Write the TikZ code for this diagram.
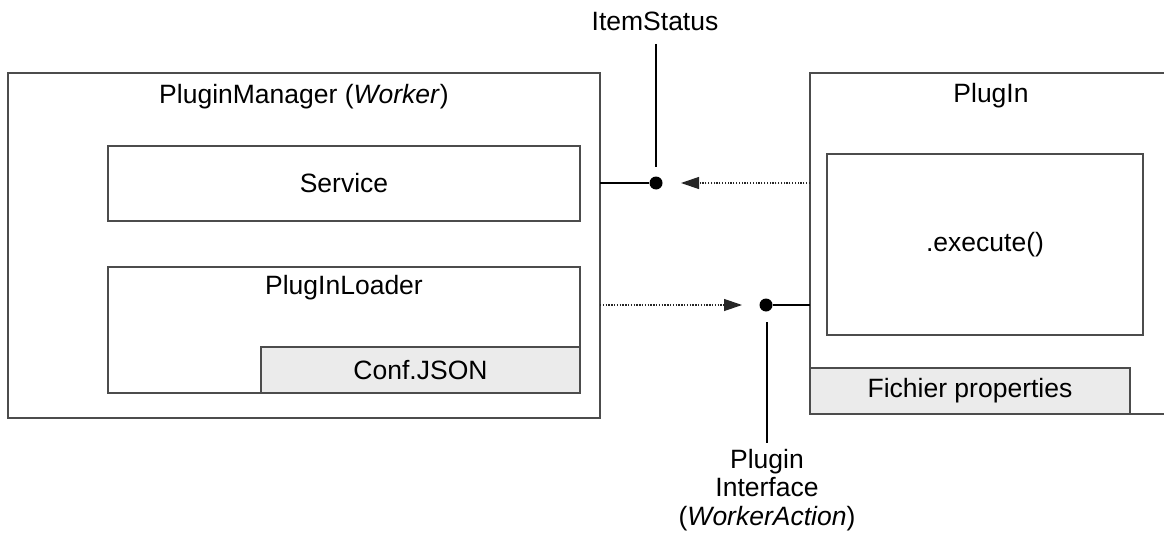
\documentclass[tikz,border=0pt]{standalone}
\usepackage{fontspec}
\setmainfont{Liberation Sans}
\usetikzlibrary{arrows.meta}
\begin{document}
\begin{tikzpicture}[x=1pt,y=-1pt,
  box/.style={draw=black!70, line width=1.1pt, anchor=north west, inner sep=0pt, outer sep=0pt},
  filebox/.style={box, fill=black!8},
  lbl/.style={inner sep=0pt, font=\fontsize{26.5}{28.5}\selectfont, align=center},
  conn/.style={draw=black, line width=1.1pt},
  dotconn/.style={draw=black!85, line width=1.2pt, dash pattern=on 1.3pt off 1.5pt, -{Triangle[length=18pt,width=12pt]}},
  ball/.style={circle, fill=black, minimum size=13pt, inner sep=0pt}
]
\useasboundingbox (0,0) rectangle (1164,535);
\clip (0,0) rectangle (1164,535);
\fill[white] (0,0) rectangle (1164,535);

% PluginManager
\node[box, minimum width=592pt, minimum height=345pt] (pm) at (8,73) {};
\node[lbl] (pmt) at (304,97) {PluginManager (\textit{Worker})};
\node[box, minimum width=472pt, minimum height=75pt] (svc) at (108,146) {};
\node[lbl] (svct) at (svc.center) {Service};
\node[box, minimum width=472pt, minimum height=126pt] (loader) at (108,267) {};
\node[lbl] (loadert) at (344,288) {PlugInLoader};
\node[filebox, minimum width=319pt, minimum height=46pt] (conf) at (261,347) {};
\node[lbl] (conft) at (conf.center) {Conf.JSON};

% PlugIn
\node[box, minimum width=400pt, minimum height=341pt] (plugin) at (810,73) {};
\node[lbl] (plugint) at (991,96) {PlugIn};
\node[box, minimum width=316pt, minimum height=181pt] (exec) at (827,154) {};
\node[lbl] (exect) at (exec.center) {.execute()};
\node[filebox, minimum width=320pt, minimum height=46pt] (fich) at (810,368) {};
\node[lbl] (ficht) at (fich.center) {Fichier properties};

% ItemStatus lollipop
\node[lbl] (item) at (655,21) {ItemStatus};
\node[ball] (d1) at (656,183) {};
\coordinate (v1a) at (656,44);
\coordinate (v1b) at (656,167);
\coordinate (t1) at (681,183);
\draw[conn] (v1a) -- (v1b);
\draw[conn] (d1 -| pm.east) -- (d1);
\draw[dotconn] (d1 -| plugin.west) -- (t1);

% Plugin Interface lollipop
\node[ball] (d2) at (766,305) {};
\coordinate (v2a) at (767,322);
\coordinate (v2b) at (767,443);
\coordinate (t2) at (742,305);
\draw[conn] (d2) -- (d2 -| plugin.west);
\draw[conn] (v2a) -- (v2b);
\draw[dotconn] (d2 -| pm.east) -- (t2);
\node[lbl] (iface) at (767,490) {Plugin\\Interface\\(\textit{WorkerAction})};
\end{tikzpicture}
\end{document}
